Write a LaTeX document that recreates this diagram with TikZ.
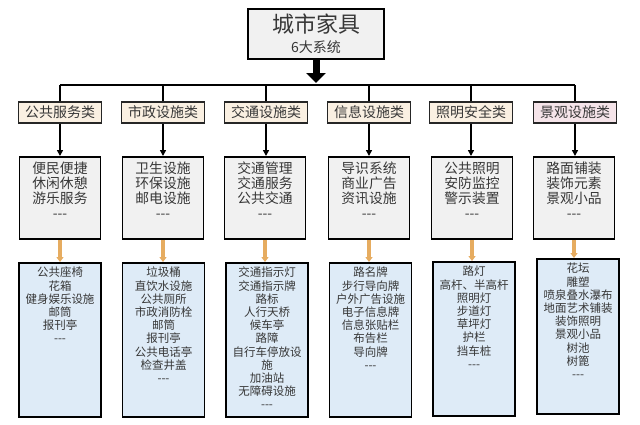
\documentclass[tikz,border=0pt]{standalone}
\usepackage{fontspec}
\setmainfont{Noto Sans CJK SC}
\usetikzlibrary{arrows.meta}
\definecolor{catfill}{RGB}{250,240,226}
\definecolor{catpink}{RGB}{245,228,233}
\definecolor{midfill}{RGB}{241,241,241}
\definecolor{botfill}{RGB}{222,235,247}
\definecolor{txt}{RGB}{55,55,55}
\definecolor{orangearr}{RGB}{230,172,96}
\newcommand\tdash{\hbox{-}\hbox{-}\hbox{-}}
\begin{document}
\begin{tikzpicture}[x=1pt,y=-1pt,
  topbox/.style={draw=black, line width=1.8pt, fill=midfill, minimum width=136pt, minimum height=50pt, inner sep=0pt, align=center, text=txt},
  catbox/.style={draw=black!85, line width=1.4pt, fill=catfill, minimum width=83pt, minimum height=21pt, inner sep=0pt, text=txt, font=\fontsize{14}{16}\selectfont},
  midbox/.style={draw=black, line width=1.8pt, fill=midfill, minimum width=81pt, minimum height=82pt, inner sep=0pt, anchor=north},
  botbox/.style={draw=black, line width=1.8pt, fill=botfill, minimum width=82pt, minimum height=154pt, inner sep=0pt, anchor=north},
  midtext/.style={anchor=north, inner sep=0pt, align=center, text=txt, font=\fontsize{13.8}{14.8}\selectfont, yshift=-6pt},
  bottext/.style={anchor=north, inner sep=0pt, align=center, text=txt, font=\fontsize{11.5}{13.2}\selectfont, yshift=-5pt},
  bigarrow/.style={line width=7pt, -{Triangle[width=19pt,length=10pt]}},
  busline/.style={line width=1.6pt},
  catarrow/.style={line width=1.6pt, -{Triangle[width=6pt,length=6pt]}},
  orarrow/.style={line width=3.2pt, draw=orangearr, -{Triangle[width=7pt,length=5pt]}}
]
\useasboundingbox[fill=white] (0,0) rectangle (640,424);

% top
\node[topbox] (top) at (316,34) {{\fontsize{22}{24}\selectfont 城市家具}\\[5pt]{\fontsize{14}{16}\selectfont 6大系统}};
\coordinate (busL) at (60,85);
\coordinate (busR) at (575,85);
\coordinate (busM) at (316,83);
\draw[bigarrow] (top.south) -- (busM);
\draw[busline] (busL) -- (busR);

% categories
\node[catbox] (c1) at (60,112.5) {公共服务类};
\node[catbox] (c2) at (163,112.5) {市政设施类};
\node[catbox] (c3) at (266,112.5) {交通设施类};
\node[catbox] (c4) at (369,112.5) {信息设施类};
\node[catbox] (c5) at (471,112.5) {照明安全类};
\node[catbox, fill=catpink] (c6) at (575,112.5) {景观设施类};
\foreach \c in {c1,c2,c3,c4,c5,c6}{
  \draw[busline] (\c.north) -- (\c.north |- busL);
}

% middle boxes
\node[midbox] (m1) at (60,156) {};
\node[midbox] (m2) at (163,156) {};
\node[midbox] (m3) at (265,156) {};
\node[midbox] (m4) at (369,156) {};
\node[midbox] (m5) at (472,156) {};
\node[midbox] (m6) at (574,156) {};
\foreach \c/\m in {c1/m1,c2/m2,c3/m3,c4/m4,c5/m5,c6/m6}{
  \draw[catarrow] (\c.south) -- (\c.south |- \m.north);
}
\node[midtext] (mt1) at (m1.north) {便民便捷\\休闲休憩\\游乐服务\\\tdash};
\node[midtext] (mt2) at (m2.north) {卫生设施\\环保设施\\邮电设施\\\tdash};
\node[midtext] (mt3) at (m3.north) {交通管理\\交通服务\\公共交通\\\tdash};
\node[midtext] (mt4) at (m4.north) {导识系统\\商业广告\\资讯设施\\\tdash};
\node[midtext] (mt5) at (m5.north) {公共照明\\安防监控\\警示装置\\\tdash};
\node[midtext] (mt6) at (m6.north) {路面铺装\\装饰元素\\景观小品\\\tdash};

% bottom boxes
\node[botbox] (b1) at (60,262) {};
\node[botbox] (b2) at (163.5,262) {};
\node[botbox] (b3) at (267,262) {};
\node[botbox] (b4) at (370.5,262) {};
\node[botbox] (b5) at (474,261) {};
\node[botbox, minimum height=155pt] (b6) at (578,258) {};
\foreach \m/\b in {m1/b1,m2/b2,m3/b3,m4/b4,m5/b5,m6/b6}{
  \draw[orarrow] (\m.south) -- (\m.south |- \b.north);
}
\node[bottext] (bt1) at (b1.north) {公共座椅\\花箱\\健身娱乐设施\\邮筒\\报刊亭\\\tdash};
\node[bottext] (bt2) at (b2.north) {垃圾桶\\直饮水设施\\公共厕所\\市政消防栓\\邮筒\\报刊亭\\公共电话亭\\检查井盖\\\tdash};
\node[bottext] (bt3) at (b3.north) {交通指示灯\\交通指示牌\\路标\\人行天桥\\候车亭\\路障\\自行车停放设\\施\\加油站\\无障碍设施\\\tdash};
\node[bottext] (bt4) at (b4.north) {路名牌\\步行导向牌\\户外广告设施\\电子信息牌\\信息张贴栏\\布告栏\\导向牌\\\tdash};
\node[bottext] (bt5) at (b5.north) {路灯\\高杆、半高杆\\照明灯\\步道灯\\草坪灯\\护栏\\挡车桩\\\tdash};
\node[bottext] (bt6) at (b6.north) {花坛\\雕塑\\喷泉叠水瀑布\\地面艺术铺装\\装饰照明\\景观小品\\树池\\树篦\\\tdash};
\end{tikzpicture}
\end{document}
